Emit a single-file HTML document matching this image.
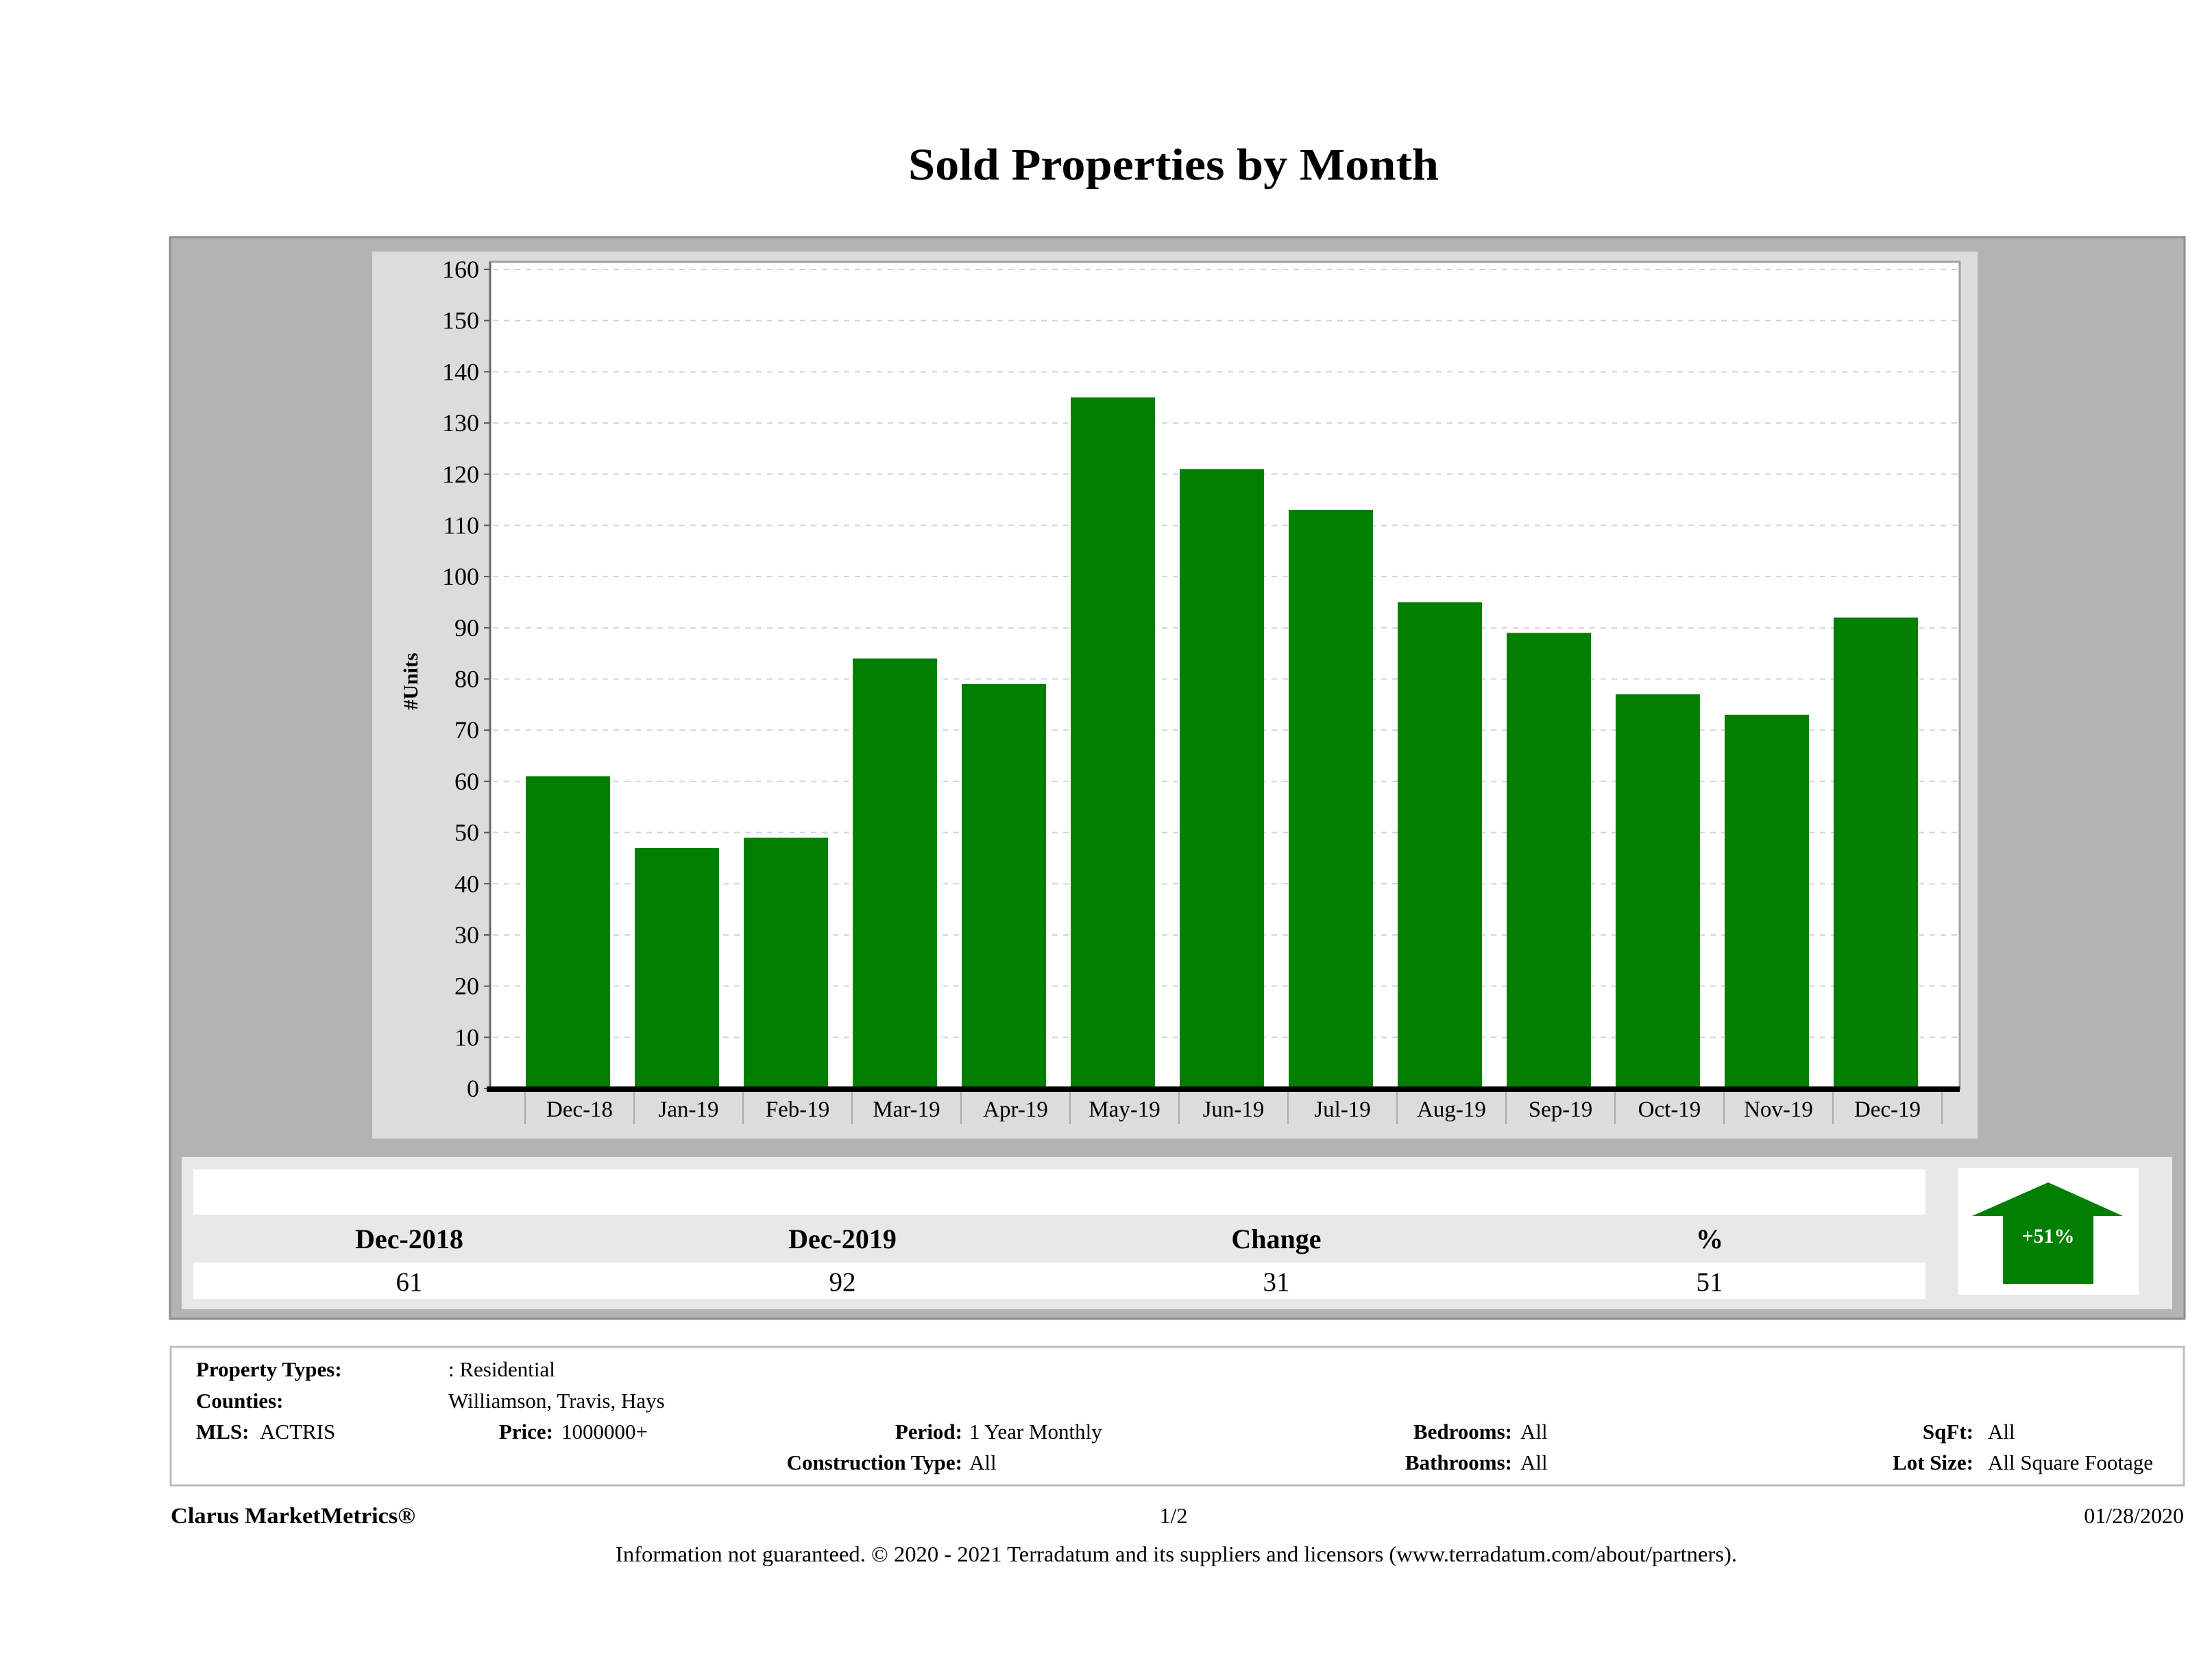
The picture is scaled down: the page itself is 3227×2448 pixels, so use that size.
<!DOCTYPE html>
<html><head><meta charset="utf-8"><style>
html,body{margin:0;padding:0;background:#fff;}
svg{display:block;font-family:"Liberation Serif",serif;}
</style></head><body>
<svg id="page" width="3227" height="2448" viewBox="0 0 3227 2448" xmlns="http://www.w3.org/2000/svg">
<text x="1712" y="262" text-anchor="middle" font-size="66" font-weight="bold" fill="#000" textLength="774" lengthAdjust="spacingAndGlyphs">Sold Properties by Month</text>
<rect x="248" y="346" width="2939" height="1578" fill="#b3b3b3" stroke="#8c8c8c" stroke-width="3"/>
<rect x="543" y="367" width="2342" height="1294" fill="#dcdcdc"/>
<rect x="715" y="382" width="2144" height="1206" fill="#fff" stroke="#a0a0a0" stroke-width="3"/>
<g id="grid"></g>
<g id="bars"></g>
<g id="yaxis"></g>
<g id="xaxis"></g>
<text transform="translate(609,994) rotate(-90)" text-anchor="middle" font-size="30" font-weight="bold">#Units</text>

<rect x="265" y="1688" width="2904" height="222" fill="#e8e8e8"/>
<rect x="282" y="1706" width="2527" height="66" fill="#fff"/>
<rect x="282" y="1842" width="2527" height="53" fill="#fff"/>
<g font-size="40" font-weight="bold" text-anchor="middle">
<text x="597" y="1821">Dec-2018</text>
<text x="1229" y="1821">Dec-2019</text>
<text x="1862" y="1821">Change</text>
<text x="2494" y="1821">%</text>
</g>
<g font-size="39" text-anchor="middle">
<text x="597" y="1883">61</text>
<text x="1229" y="1883">92</text>
<text x="1862" y="1883">31</text>
<text x="2494" y="1883">51</text>
</g>
<rect x="2857" y="1704" width="263" height="185" fill="#fff"/>
<polygon points="2988,1725 3097,1774 3054,1774 3054,1873 2922,1873 2922,1774 2877,1774" fill="#007f00"/>
<text x="2988" y="1813" text-anchor="middle" font-size="30" font-weight="bold" fill="#fff">+51%</text>

<rect x="249" y="1965" width="2937" height="202" fill="#fff" stroke="#bdbdbd" stroke-width="3"/>
<g font-size="31">
<text x="286" y="2008" font-weight="bold">Property Types:</text>
<text x="654" y="2008">: Residential</text>
<text x="286" y="2054" font-weight="bold">Counties:</text>
<text x="654" y="2054">Williamson, Travis, Hays</text>
<text x="286" y="2099" font-weight="bold">MLS:</text>
<text x="379" y="2099">ACTRIS</text>
<text x="807" y="2099" font-weight="bold" text-anchor="end">Price:</text>
<text x="819" y="2099">1000000+</text>
<text x="1404" y="2099" font-weight="bold" text-anchor="end">Period:</text>
<text x="1414" y="2099">1 Year Monthly</text>
<text x="2206" y="2099" font-weight="bold" text-anchor="end">Bedrooms:</text>
<text x="2218" y="2099">All</text>
<text x="2879" y="2099" font-weight="bold" text-anchor="end">SqFt:</text>
<text x="2900" y="2099">All</text>
<text x="1404" y="2144" font-weight="bold" text-anchor="end">Construction Type:</text>
<text x="1414" y="2144">All</text>
<text x="2206" y="2144" font-weight="bold" text-anchor="end">Bathrooms:</text>
<text x="2218" y="2144">All</text>
<text x="2879" y="2144" font-weight="bold" text-anchor="end">Lot Size:</text>
<text x="2900" y="2144">All Square Footage</text>
</g>
<text x="249" y="2222" font-size="33" font-weight="bold" textLength="357" lengthAdjust="spacingAndGlyphs">Clarus MarketMetrics®</text>
<text x="1712" y="2222" font-size="32" text-anchor="middle">1/2</text>
<text x="3186" y="2222" font-size="32" text-anchor="end">01/28/2020</text>
<text x="1716" y="2278" font-size="32" text-anchor="middle" textLength="1636" lengthAdjust="spacingAndGlyphs">Information not guaranteed. © 2020 - 2021 Terradatum and its suppliers and licensors (www.terradatum.com/about/partners).</text>
</svg>
<script>
const categories = ["Dec-18","Jan-19","Feb-19","Mar-19","Apr-19","May-19","Jun-19","Jul-19","Aug-19","Sep-19","Oct-19","Nov-19","Dec-19"];
const soldUnits = [61,47,49,84,79,135,121,113,95,89,77,73,92];
const yTicks = [0,10,20,30,40,50,60,70,80,90,100,110,120,130,140,150,160];

const NS = "http://www.w3.org/2000/svg";
const plotL = 715, plotR = 2859, y0 = 1588, yTop = 393, yMax = 160;
const firstBoundary = 766, pitch = 159, barW = 123;
function yScale(v){ return y0 - v * (y0 - yTop) / yMax; }
function xBoundary(i){ return firstBoundary + i * pitch; }
function mk(tag, attrs, parent){
  const e = document.createElementNS(NS, tag);
  for (const k in attrs) e.setAttribute(k, attrs[k]);
  parent.appendChild(e);
  return e;
}
const grid = document.getElementById('grid');
const yaxis = document.getElementById('yaxis');
const xaxis = document.getElementById('xaxis');
const bars = document.getElementById('bars');

yTicks.forEach(t => {
  const y = yScale(t);
  if (t > 0) {
    const g = mk('line', {x1: plotL + 4, x2: plotR - 2, y1: y, y2: y, stroke: '#d4d4d4', 'stroke-width': 2, 'stroke-dasharray': '8,8'}, grid);
    
    
  }
  const tk = mk('line', {x1: plotL - 9, x2: plotL, y1: y, y2: y, stroke: '#555', 'stroke-width': 2}, yaxis);
  
  
  const lb = mk('text', {x: plotL - 16, y: y + 12, 'text-anchor': 'end', 'font-size': 36}, yaxis);
  lb.textContent = t;
  
  
});
mk('line', {x1: plotL, x2: plotL, y1: 382, y2: y0, stroke: '#666', 'stroke-width': 3}, yaxis);

soldUnits.forEach((v, i) => {
  const x = xBoundary(i) + 1;
  const r = mk('rect', {x: x, y: yScale(v), width: barW, height: y0 - yScale(v), fill: '#007f00'}, bars);
  
  
});

const axisLine = mk('rect', {x: 710, y: y0 - 3, width: plotR - 710, height: 8, fill: '#000'}, xaxis);


for (let i = 0; i <= categories.length; i++) {
  const x = xBoundary(i);
  const s = mk('line', {x1: x, x2: x, y1: y0 + 5, y2: y0 + 52, stroke: '#aaa', 'stroke-width': 2}, xaxis);
  
  
}
categories.forEach((c, i) => {
  const t = mk('text', {x: xBoundary(i) + pitch / 2, y: y0 + 41, 'text-anchor': 'middle', 'font-size': 33}, xaxis);
  t.textContent = c;
  
  
});
</script>
</body></html>
